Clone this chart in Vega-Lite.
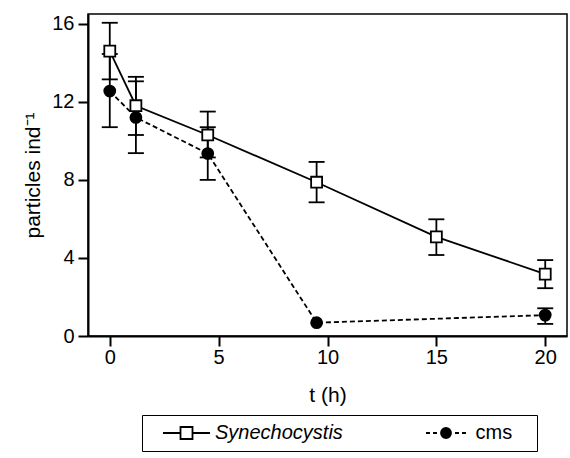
{
  "$schema": "https://vega.github.io/schema/vega-lite/v6.json",
  "autosize": "none",
  "padding": {"left": 88, "top": 14, "right": 3, "bottom": 122},
  "width": 479,
  "height": 322,
  "background": "white",
  "data": {"values": [
    {"series": "cms", "t": 0, "mean": 12.55, "lo": 10.7, "hi": 14.45},
    {"series": "cms", "t": 1.2, "mean": 11.2, "lo": 9.37, "hi": 13.05},
    {"series": "cms", "t": 4.5, "mean": 9.35, "lo": 8.0, "hi": 10.7},
    {"series": "cms", "t": 9.5, "mean": 0.68, "lo": null, "hi": null},
    {"series": "cms", "t": 20, "mean": 1.07, "lo": 0.62, "hi": 1.42},
    {"series": "Synechocystis", "t": 0, "mean": 14.6, "lo": 13.15, "hi": 16.05},
    {"series": "Synechocystis", "t": 1.2, "mean": 11.8, "lo": 10.3, "hi": 13.28},
    {"series": "Synechocystis", "t": 4.5, "mean": 10.3, "lo": 9.15, "hi": 11.5},
    {"series": "Synechocystis", "t": 9.5, "mean": 7.88, "lo": 6.85, "hi": 8.92},
    {"series": "Synechocystis", "t": 15, "mean": 5.08, "lo": 4.15, "hi": 5.98},
    {"series": "Synechocystis", "t": 20, "mean": 3.17, "lo": 2.45, "hi": 3.89}
  ]},
  "encoding": {
    "x": {"field": "t", "type": "quantitative", "scale": {"domain": [-1, 21], "nice": false, "zero": false},
      "axis": {"values": [0, 5, 10, 15, 20], "title": "t (h)", "labelPadding": 1, "titlePadding": 17, "labelFlush": false}}
  },
  "layer": [
    {"mark": {"type": "rule", "color": "black", "strokeWidth": 1.8},
     "encoding": {
       "y": {"field": "lo", "type": "quantitative", "scale": {"domain": [0, 16.5], "nice": false},
         "axis": {"values": [0, 4, 8, 12, 16], "title": "particles ind⁻¹", "labelPadding": 4, "titlePadding": 8}},
       "y2": {"field": "hi"}}},
    {"mark": {"type": "tick", "orient": "horizontal", "color": "black", "size": 16, "thickness": 1.8, "opacity": 1},
     "encoding": {"y": {"field": "lo", "type": "quantitative"}}},
    {"mark": {"type": "tick", "orient": "horizontal", "color": "black", "size": 16, "thickness": 1.8, "opacity": 1},
     "encoding": {"y": {"field": "hi", "type": "quantitative"}}},
    {"transform": [{"filter": "datum.series === 'cms'"}],
     "mark": {"type": "line", "color": "black", "strokeWidth": 1.8, "strokeDash": [5, 3]},
     "encoding": {"y": {"field": "mean", "type": "quantitative"}}},
    {"transform": [{"filter": "datum.series === 'Synechocystis'"}],
     "mark": {"type": "line", "strokeWidth": 1.8},
     "encoding": {
       "y": {"field": "mean", "type": "quantitative"},
       "color": {"field": "series", "type": "nominal", "scale": {"domain": ["Synechocystis"], "range": ["black"]},
         "legend": {"title": null, "orient": "none", "legendX": 91, "legendY": 409, "padding": 0,
           "labelOffset": 16, "labelFont": "Liberation Sans", "labelFontSize": 20, "labelColor": "black",
           "labelFontStyle": "italic", "symbolSize": 100, "symbolStrokeWidth": 1.8, "symbolOpacity": 0}}
     }},
    {"transform": [{"filter": "datum.t < -5"}],
     "mark": {"type": "point", "stroke": "black", "strokeWidth": 1.8, "filled": true},
     "encoding": {
       "y": {"field": "mean", "type": "quantitative"},
       "shape": {"field": "series", "type": "nominal",
         "scale": {"domain": ["Synechocystis", "cms"], "range": ["M0.6,0H4.1M6.5,0H10M4.1,-1.2H6.5V1.2H4.1Z", "M-4,0H-3.2M-2.6,0H-1.8M1.8,0H2.6M3.2,0H4M-1,0A1,1,0,1,0,1,0A1,1,0,1,0,-1,0ZM15.7,0"]},
         "legend": {"title": null, "orient": "none", "legendX": 54, "legendY": 401, "direction": "horizontal",
           "strokeColor": "black", "padding": 8, "columnPadding": 208, "labelOffset": 19.5,
           "labelFont": "Liberation Sans", "labelFontSize": 20, "labelColor": "black", "symbolSize": 100,
           "symbolStrokeWidth": 1.8, "symbolOpacity": 1, "symbolStrokeColor": "black",
           "labelExpr": "datum.label === 'cms' ? 'cms' : ''"}},
       "fill": {"field": "series", "type": "nominal",
         "scale": {"domain": ["Synechocystis", "cms"], "range": ["white", "black"]},
         "legend": {"title": null, "orient": "none", "legendX": 54, "legendY": 401, "direction": "horizontal",
           "strokeColor": "black", "padding": 8, "columnPadding": 208, "labelOffset": 19.5,
           "labelFont": "Liberation Sans", "labelFontSize": 20, "labelColor": "black", "symbolSize": 100,
           "symbolStrokeWidth": 1.8, "symbolOpacity": 1, "symbolStrokeColor": "black",
           "labelExpr": "datum.label === 'cms' ? 'cms' : ''"}},
       "stroke": {"field": "series", "type": "nominal",
         "scale": {"domain": ["Synechocystis", "cms"], "range": ["black", "black"]},
         "legend": {"title": null, "orient": "none", "legendX": 54, "legendY": 401, "direction": "horizontal",
           "strokeColor": "black", "padding": 8, "columnPadding": 208, "labelOffset": 19.5,
           "labelFont": "Liberation Sans", "labelFontSize": 20, "labelColor": "black", "symbolSize": 100,
           "symbolStrokeWidth": 1.8, "symbolOpacity": 1, "symbolStrokeColor": "black",
           "labelExpr": "datum.label === 'cms' ? 'cms' : ''"}}
     }},
    {"mark": {"type": "point", "stroke": "black", "strokeWidth": 1.8, "size": 120, "opacity": 1},
     "encoding": {
       "y": {"field": "mean", "type": "quantitative"},
       "fill": {"condition": {"test": "datum.series === 'cms'", "value": "black"}, "value": "white"},
       "shape": {"condition": {"test": "datum.series === 'cms'", "value": "circle"}, "value": "square"}
     }}
  ],
  "resolve": {"scale": {"color": "independent", "shape": "independent", "fill": "independent", "stroke": "independent"}},
  "config": {
    "view": {"stroke": "black", "strokeWidth": 1.5},
    "axis": {"domainColor": "black", "domainWidth": 2, "tickColor": "black", "tickWidth": 2, "tickSize": 10,
      "labelFont": "Liberation Sans", "labelFontSize": 20, "labelColor": "black",
      "titleFont": "Liberation Sans", "titleFontSize": 21, "titleFontWeight": "normal", "titleColor": "black", "grid": false}
  }
}
